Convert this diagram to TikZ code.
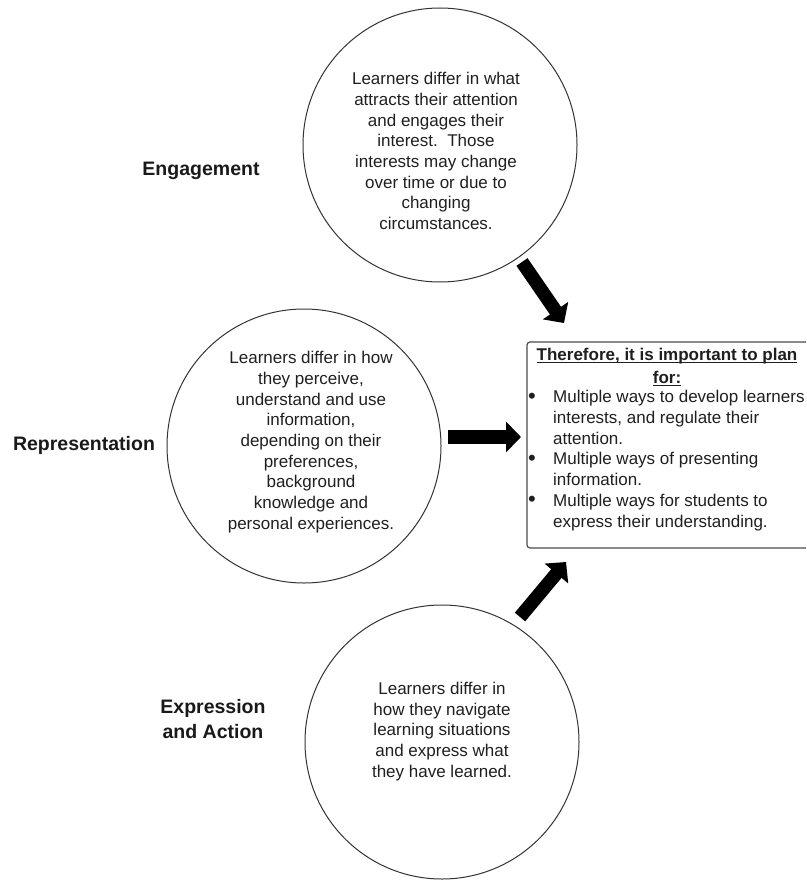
\documentclass[tikz,border=0pt]{standalone}
\usepackage{fontspec}
\setmainfont{Liberation Sans}
\usetikzlibrary{arrows.meta}

% underline that sits just under the baseline
\newcommand\baseul[1]{\setbox0\hbox{#1}\rlap{\rule[-2.6pt]{\wd0}{1.3pt}}\box0}
\newcommand\bul{\makebox[26pt][l]{\hspace{1pt}\raisebox{-0.6pt}{\scalebox{1.3}{•}}}}
\newcommand\cont{\hspace*{26pt}}

\begin{document}
\begin{tikzpicture}[x=1pt,y=-1pt,
  ring/.style={circle, draw=black!80, line width=1pt, minimum size=274pt, inner sep=0pt},
  bodytext/.style={align=center, inner sep=0pt, text=black!88,
    font=\fontsize{17}{20.7}\selectfont},
  sidelabel/.style={align=center, inner sep=0pt, text=black!90,
    font=\fontsize{19.5}{25}\selectfont\bfseries},
  blockarrow/.style={line width=13.5pt, black,
    -{Triangle[length=15pt,width=30pt]}}
]
\useasboundingbox (0,0) rectangle (806,880);
\clip (0,0) rectangle (806,880);

% the three circles
\node[ring] (eng) at (440,145) {};
\node[ring] (rep) at (304,446) {};
\node[ring] (exp) at (442,742) {};

\node[bodytext] (engtext) at (436,151) {Learners differ in what\\attracts their attention\\and engages their\\interest.\ \ Those\\interests may change\\over time or due to\\changing\\circumstances.};
\node[bodytext] (reptext) at (311,442) {Learners differ in how\\they perceive,\\understand and use\\information,\\depending on their\\preferences,\\background\\knowledge and\\personal experiences.};
\node[bodytext] (exptext) at (442,731.5) {Learners differ in\\how they navigate\\learning situations\\and express what\\they have learned.};

% side labels
\node[sidelabel, anchor=base] (englabel) at (201,175) {Engagement};
\node[sidelabel, anchor=base] (replabel) at (84,450) {Representation};
\node[sidelabel] (explabel) at (213,719.5) {Expression\\and Action};

% summary box
\draw[draw=black!70, line width=1.2pt, rounded corners=3pt, fill=white]
  (527,342) rectangle (812,548);
\node[bodytext, font=\fontsize{17}{23}\selectfont\bfseries] (plan) at (667,367.5)
  {\baseul{Therefore, it is important to plan}\\\baseul{for:}};
\node[bodytext, align=left, anchor=west] (planlist) at (527,460.5)
  {\bul Multiple ways to develop learners\\
   \cont interests, and regulate their\\
   \cont attention.\\
   \bul Multiple ways of presenting\\
   \cont information.\\
   \bul Multiple ways for students to\\
   \cont express their understanding.};

% arrows into the box
\coordinate (a1s) at (522,262);
\coordinate (a1e) at (564,323);
\coordinate (a2s) at (448,437);
\coordinate (a2e) at (521,437);
\coordinate (a3s) at (520,617);
\coordinate (a3e) at (566,562);
\draw[blockarrow] (a1s) -- (a1e);
\draw[blockarrow] (a2s) -- (a2e);
\draw[blockarrow] (a3s) -- (a3e);
\end{tikzpicture}
\end{document}
